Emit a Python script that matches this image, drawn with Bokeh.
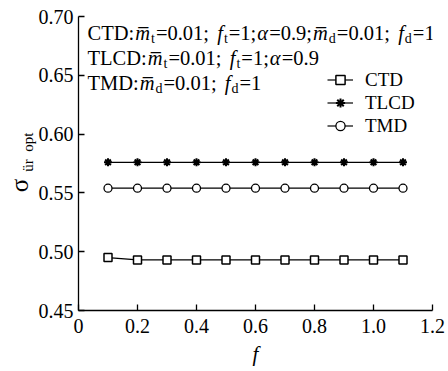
import math
from bokeh.plotting import figure
from bokeh.models import (Label, Legend, LegendItem, FixedTicker, Range1d,
                          PrintfTickFormatter, LinearAxis)
from bokeh.embed import file_html
from bokeh.resources import INLINE

# ---------------- data ----------------
f_vals = [0.1, 0.2, 0.3, 0.4, 0.5, 0.6, 0.7, 0.8, 0.9, 1.0, 1.1]
ctd = [0.495, 0.493, 0.493, 0.493, 0.493, 0.493, 0.493, 0.493, 0.493, 0.493, 0.493]
tlcd = [0.576, 0.576, 0.576, 0.576, 0.576, 0.576, 0.576, 0.576, 0.576, 0.576, 0.576]
tmd = [0.554, 0.554, 0.554, 0.554, 0.554, 0.554, 0.554, 0.554, 0.554, 0.554, 0.554]
x_ticks = [0, 0.2, 0.4, 0.6, 0.8, 1.0, 1.2]
x_tick_labels = ["0", "0.2", "0.4", "0.6", "0.8", "1.0", "1.2"]
y_ticks = [0.45, 0.50, 0.55, 0.60, 0.65, 0.70]
series_names = ["CTD", "TLCD", "TMD"]

FONT = "Liberation Serif"
TOP, BOTTOM, LEFT, RIGHT = 16, 61, 78, 16
W, H = 448, 371

p = figure(width=W, height=H, output_backend="svg", toolbar_location=None,
           x_range=Range1d(0, 1.2), y_range=Range1d(0.45, 0.70),
           min_border_left=LEFT, min_border_right=RIGHT,
           min_border_top=TOP, min_border_bottom=BOTTOM)
p.outline_line_color = None
p.xgrid.visible = False
p.ygrid.visible = False
p.background_fill_color = "white"
p.border_fill_color = "white"

for ax in (p.xaxis[0], p.yaxis[0]):
    ax.axis_line_color = "black"
    ax.axis_line_width = 1.3
    ax.major_tick_line_color = "black"
    ax.major_tick_line_width = 1.3
    ax.major_tick_in = 6
    ax.major_tick_out = 0
    ax.minor_tick_line_color = None
    ax.major_label_text_font = FONT
    ax.major_label_text_font_size = "20px"
    ax.major_label_text_color = "black"
    ax.axis_label_text_color = "black"

p.xaxis[0].ticker = FixedTicker(ticks=x_ticks)
p.xaxis[0].major_label_overrides = {t: l for t, l in zip(x_ticks, x_tick_labels)}
p.xaxis[0].major_label_standoff = 8
p.xaxis[0].axis_label = "f"
p.xaxis[0].axis_label_text_font = FONT
p.xaxis[0].axis_label_text_font_style = "italic"
p.xaxis[0].axis_label_text_font_size = "21px"
p.xaxis[0].axis_label_standoff = 6

p.yaxis[0].ticker = FixedTicker(ticks=y_ticks)
p.yaxis[0].formatter = PrintfTickFormatter(format="%.2f")
p.yaxis[0].major_label_standoff = 5
NB = "\u00a0"
p.yaxis[0].axis_label = NB * 6 + "\u00fcr" + NB * 2 + "opt"
p.yaxis[0].axis_label_text_font = FONT
p.yaxis[0].axis_label_text_font_style = "normal"
p.yaxis[0].axis_label_text_font_size = "15px"
p.yaxis[0].axis_label_standoff = 0

sig_ax = LinearAxis(axis_label="\u03c3" + NB * 7, axis_line_color=None,
                    major_tick_line_color=None, minor_tick_line_color=None,
                    major_label_text_font_size="0px", ticker=FixedTicker(ticks=[]),
                    axis_label_text_font=FONT, axis_label_text_font_style="normal",
                    axis_label_text_font_size="25px", axis_label_text_color="black",
                    axis_label_standoff=-16)
p.add_layout(sig_ax, "left")

# ---------------- series ----------------
lw = 1.2
r1 = p.line(f_vals, ctd, line_color="black", line_width=lw)
s1 = p.scatter(f_vals, ctd, marker="square", size=8, fill_color="white",
               line_color="black", line_width=1.5)
r2 = p.line(f_vals, tlcd, line_color="black", line_width=lw)
s2 = p.scatter(f_vals, tlcd, marker="asterisk", size=8, line_color="black",
               line_width=2)
r3 = p.line(f_vals, tmd, line_color="black", line_width=lw)
s3 = p.scatter(f_vals, tmd, marker="circle", size=8, fill_color="white",
               line_color="black", line_width=1.3)

legend = Legend(items=[LegendItem(label=series_names[0], renderers=[r1, s1]),
                       LegendItem(label=series_names[1], renderers=[r2, s2]),
                       LegendItem(label=series_names[2], renderers=[r3, s3])],
                location=(249, 173), glyph_width=26, glyph_height=23,
                label_height=23, spacing=0, padding=0, margin=0,
                label_standoff=12, border_line_color=None,
                background_fill_alpha=0, label_text_font=FONT,
                label_text_font_size="19px", label_text_color="black")
p.add_layout(legend, "center")

# ---------------- annotation text ----------------
MAIN, SUB = 20.5, 14
OVL = "\u0305"
WID = {"C": .667, "T": .611, "D": .722, "L": .611, "M": .889, ":": .278,
       ";": .278, "=": .564, ".": .25, " ": .35, "t": .278, "d": .5,
       "m": .722, "f": .278, "\u03b1": .53, OVL: 0.0}
for dgt in "0123456789":
    WID[dgt] = .5

def tw(s, size):
    return sum(WID.get(c, .5) for c in s) * size

# (text, italic?, subscript?)
lines = [
    [("CTD:", 0, 0), ("m" + OVL, 1, 0), ("t", 0, 1), ("=0.01; ", 0, 0),
     ("f", 1, 0), ("t", 0, 1), ("=1;", 0, 0), ("\u03b1", 1, 0),
     ("=0.9;", 0, 0), ("m" + OVL, 1, 0), ("d", 0, 1), ("=0.01; ", 0, 0),
     ("f", 1, 0), ("d", 0, 1), ("=1", 0, 0)],
    [("TLCD:", 0, 0), ("m" + OVL, 1, 0), ("t", 0, 1), ("=0.01; ", 0, 0),
     ("f", 1, 0), ("t", 0, 1), ("=1;", 0, 0), ("\u03b1", 1, 0),
     ("=0.9", 0, 0)],
    [("TMD:", 0, 0), ("m" + OVL, 1, 0), ("d", 0, 1), ("=0.01; ", 0, 0),
     ("f", 1, 0), ("d", 0, 1), ("=1", 0, 0)],
]
line_centers = [32, 57, 82]  # px from top of canvas
X0 = 87
GAP = 1.0  # small extra spacing between segments

for segs, yc in zip(lines, line_centers):
    x = X0
    for t, ital, sub in segs:
        size = SUB if sub else MAIN
        p.add_layout(Label(x=0, y=0.70, x_offset=x - LEFT,
                           y_offset=-(yc - TOP) - (6 if sub else 0),
                           text=t, text_font=FONT,
                           text_font_style="italic" if ital else "normal",
                           text_font_size=f"{size}px", text_color="black",
                           text_baseline="middle", text_align="left"))
        x += tw(t, size) + GAP

open("out.html", "w").write(file_html(p, INLINE))
